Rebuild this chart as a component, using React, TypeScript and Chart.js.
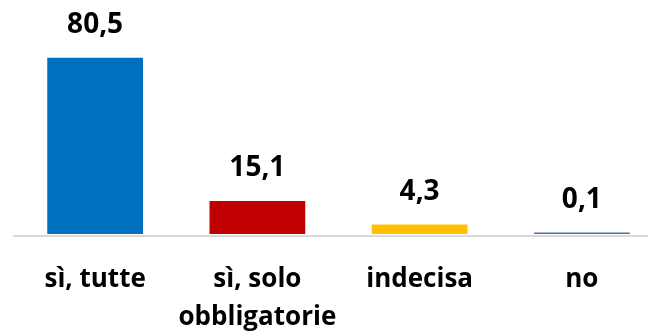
import React, { useEffect, useRef } from "react";
import { Chart, registerables } from "chart.js";

Chart.register(...registerables);

// Survey answers and their shares (%)
const categories: string[][] = [["sì, tutte"], ["sì, solo", "obbligatorie"], ["indecisa"], ["no"]];
const shares: number[] = [80.5, 15.1, 4.3, 0.1];
const shareLabels: string[] = ["80,5", "15,1", "4,3", "0,1"];
const barColors: string[] = ["#0070C0", "#C00000", "#FFC000", "#4A6DB3"];

const VALUE_FONT = "bold 28px 'Open Sans', sans-serif";
const CATEGORY_FONT = "bold 26px 'Open Sans', sans-serif";

const labelsPlugin = {
  id: "barLabels",
  beforeDatasetsDraw(chart: any) {
    const { ctx, chartArea } = chart;
    // baseline rule under the bars
    ctx.save();
    ctx.fillStyle = "#D9D9D9";
    ctx.fillRect(chartArea.left - 1, chartArea.bottom + 1, chart.width, 2);
    ctx.restore();
  },
  afterDatasetsDraw(chart: any) {
    const { ctx, chartArea } = chart;
    const meta = chart.getDatasetMeta(0);
    const xScale = chart.scales.x;
    ctx.save();
    ctx.fillStyle = "#000000";
    ctx.textAlign = "center";
    ctx.textBaseline = "alphabetic";
    ctx.font = VALUE_FONT;
    meta.data.forEach((bar: any, i: number) => {
      ctx.fillText(shareLabels[i], bar.x, bar.y - 25);
    });
    ctx.font = CATEGORY_FONT;
    categories.forEach((lines, i) => {
      const x = xScale.getPixelForValue(i);
      lines.forEach((line, j) => {
        ctx.fillText(line, x, chartArea.bottom + 53 + j * 38);
      });
    });
    ctx.restore();
  },
};

export default function App() {
  const ref = useRef<HTMLCanvasElement | null>(null);

  useEffect(() => {
    if (!ref.current) return;
    const chart = new Chart(ref.current, {
      type: "bar",
      data: {
        labels: categories.map((c) => c.join(" ")),
        datasets: [
          {
            data: shares,
            backgroundColor: barColors,
            borderWidth: 0,
            minBarLength: 1.5,
            barPercentage: 0.59,
            categoryPercentage: 1,
          },
        ],
      },
      options: {
        responsive: false,
        animation: false,
        devicePixelRatio: 1,
        layout: { padding: { left: 14, right: 17, top: 15, bottom: 99 } },
        plugins: { legend: { display: false }, tooltip: { enabled: false } },
        scales: {
          x: { display: false },
          y: { display: false, min: 0, max: 100 },
        },
      },
      plugins: [labelsPlugin],
    });
    return () => chart.destroy();
  }, []);

  return (
    <div
      style={{
        position: "absolute",
        left: 0,
        top: 0,
        width: 648,
        height: 333,
        overflow: "hidden",
        background: "#ffffff",
      }}
    >
      <canvas ref={ref} width={680} height={333} style={{ width: 680, height: 333, display: "block" }} />
    </div>
  );
}
